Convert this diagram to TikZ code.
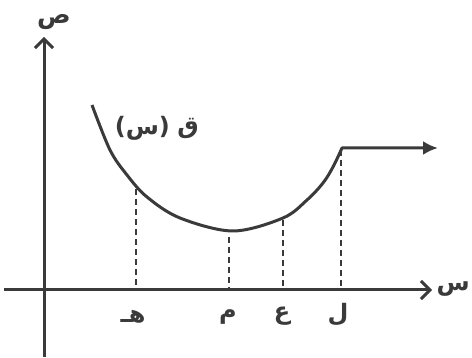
\documentclass[tikz,border=0pt]{standalone}
\usepackage{fontspec}
\newfontfamily\arabicfont[Script=Arabic]{DejaVu Sans}
\newfontfamily\latinfont{DejaVu Sans}
\TeXXeTstate=1
\usepackage{tikz}
\usetikzlibrary{arrows.meta,positioning,calc}
\definecolor{ink}{HTML}{3A3A3A}

\begin{document}
\begin{tikzpicture}[x=1pt,y=-1pt,
  every node/.style={font=\arabicfont\bfseries\fontsize{25}{25}\selectfont,text=ink,inner sep=0pt},
  small/.style={font=\arabicfont\bfseries\fontsize{24}{24}\selectfont},
  axis/.style={draw=ink,line width=3pt,-{Straight Barb[length=9pt,width=18pt,line width=3pt]}},
  curve/.style={draw=ink,line width=3pt,line join=round},
  guide/.style={draw=ink,line width=2pt,dash pattern=on 6pt off 4pt},
]
\useasboundingbox (0,0) rectangle (472,358);
% axes
\coordinate (xs) at (4,290);
\coordinate (xe) at (432,290);
\coordinate (ys) at (44,357);
\coordinate (ye) at (44,37);
\draw[axis] (xs) -- (xe);
\draw[axis] (ys) -- (ye);
\node[small,anchor=east] (lx) at (470,289) {\beginR س\endR};
\node (ly) at (54,22) {\beginR ص\endR};
% the curve and its flat part
\coordinate (top) at (342,148);
\coordinate (tip) at (438,148);
\draw[curve,-{Latex[length=15pt,width=14pt]}] plot[smooth,tension=0.55] coordinates {
  (92,105) (110,150) (127,175) (147,197) (180,218) (233,231)
  (283,218) (307,200) (323,183) (333,167) (top)} -- (tip);
\node[small] (lq) at (188,128) {\beginR ق\endR};
\node[small,left=7pt of lq] (ls) {{\latinfont\bfseries(}\beginR س\endR{\latinfont\bfseries)}};
% dashed guides
\coordinate (ch) at (136,189);
\coordinate (cm) at (229,237);
\coordinate (ca) at (283,220);
\coordinate (cl) at (341,150);
\foreach \c in {h,m,a,l}{
  \draw[guide] (c\c) -- (c\c |- xs);
}
% labels on the x-axis
\node[small] (th) at (133,317) {\beginR هـ\endR};
\node[small] (tm) at (228,317) {\beginR م\endR};
\node[small] (ta) at (282,316) {\beginR ع\endR};
\node[small] (tl) at (338,315) {\beginR ل\endR};
\end{tikzpicture}
\end{document}
